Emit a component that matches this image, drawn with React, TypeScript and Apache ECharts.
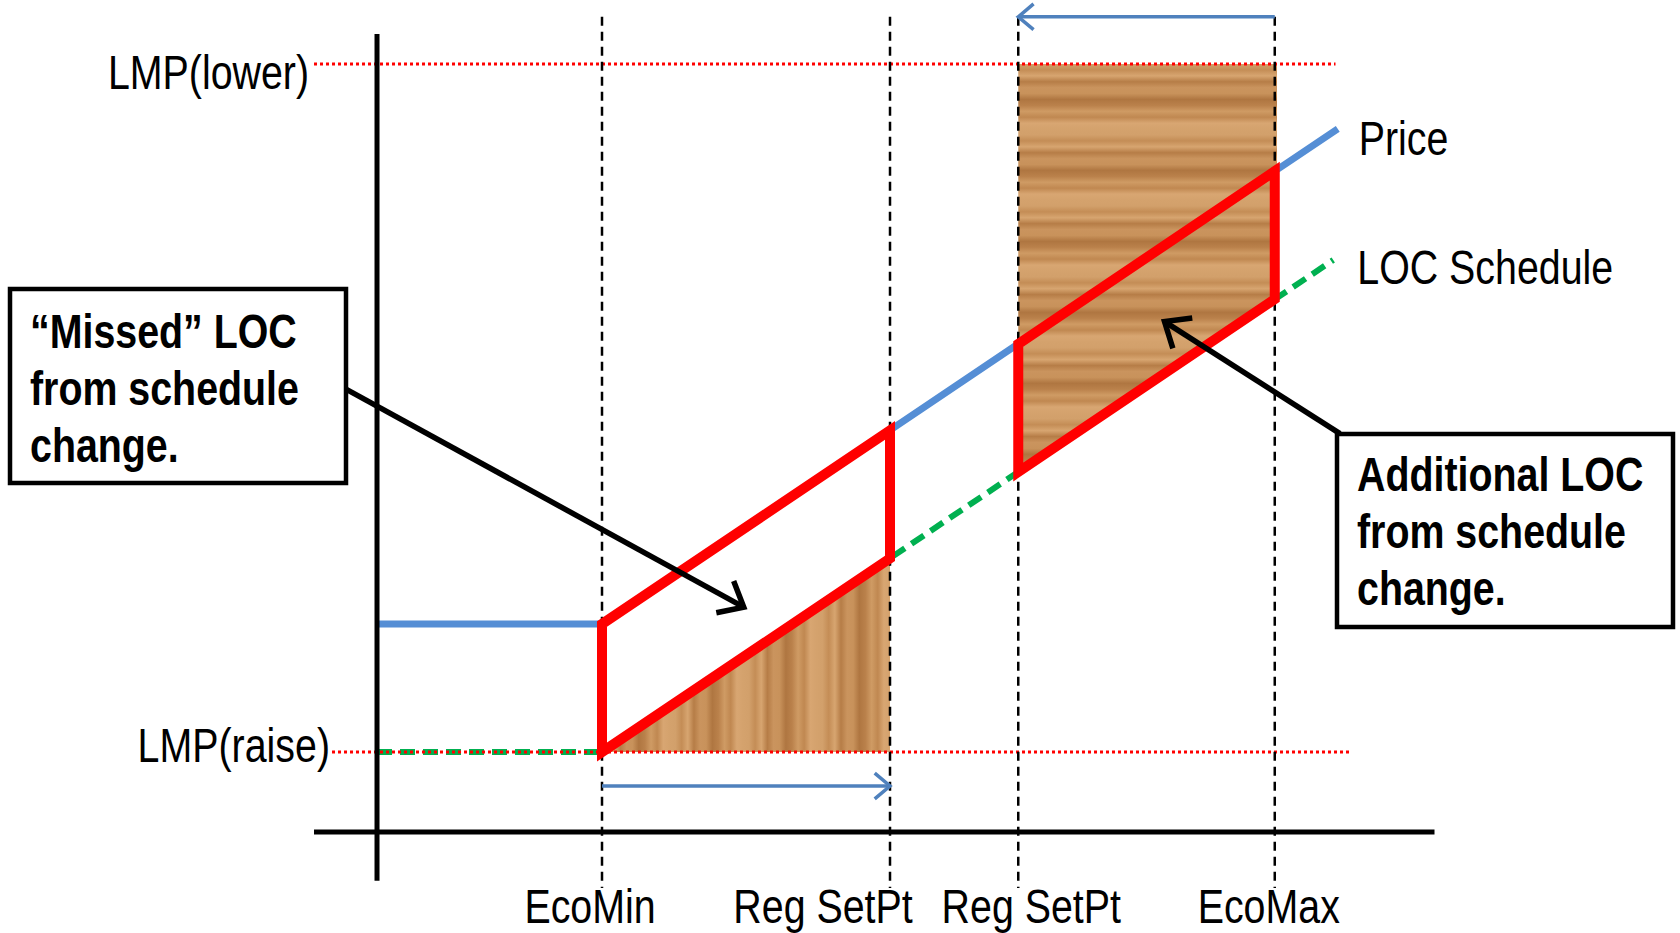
import React, { useEffect, useRef } from "react";
import * as echarts from "echarts";

// ---- data (x: MW, y: $/MWh, schematic values) ----
const xTickLabels = ["EcoMin", "Reg SetPt", "Reg SetPt", "EcoMax"];
const xTickValues = [10, 22.8, 28.5, 39.9];
const lmpLabels = ["LMP(lower)", "LMP(raise)"];
const lmpValues = [96, 10];
const lmpExtents = [[-2.8, 42.6], [-2.0, 43.3]];
const pricePts = [[0, 26], [10, 26], [42.7, 87.9]];
const schedulePts = [[0, 10], [10, 10], [42.5, 71.5]];
const missedLoc = [[10, 26], [22.8, 50.2], [22.8, 34.2], [10, 10]];
const additionalLoc = [[28.5, 61], [39.9, 82.6], [39.9, 66.6], [28.5, 45]];
const woodTriangle = [[10, 10], [22.8, 34.2], [22.8, 10]];
const woodBlock = [[28.5, 96], [40, 96], [40, 66.6], [28.5, 45]];
const blueArrows = [[39.9, 101.9, 28.5, 101.9], [10, 5.75, 22.8, 5.75]];
const blackArrows = [[-1.4, 55.4, 16.3, 28.1], [42.8, 49.8, 35.0, 63.8]];
const xAxisLine = [[-2.8, 0], [47, 0]];
const yAxisLine = [[0, 99.75], [0, -6.1]];
const guideExtent = [101.9, -7];
const boxTexts1 = ["\u201CMissed\u201D LOC", "from schedule", "change."];
const boxTexts2 = ["Additional LOC", "from schedule", "change."];

// ---- styles ----
const FONT = "'Liberation Sans', Arial, sans-serif";
const FS = 48;
const NARROW = 0.82;
const tickLabelOffsets = [-12, -67, 13, -6];
const WOOD_SHADES = ["#D2A06B", "#C8925B", "#D8A672", "#B67D47", "#CF9B64", "#C48D56", "#AF7641", "#D4A26D", "#CA945E", "#C08851", "#D7A570", "#BA814B"];

function woodGradient(vertical: boolean, stripes: number) {
  const colorStops: { offset: number; color: string }[] = [];
  for (let i = 0; i < stripes; i++) {
    colorStops.push({ offset: i / (stripes - 1), color: WOOD_SHADES[(i * 5) % WOOD_SHADES.length] });
  }
  return new echarts.graphic.LinearGradient(0, 0, vertical ? 0 : 1, vertical ? 1 : 0, colorStops);
}

function arrow(api: any, seg: number[], color: string, width: number, head: number) {
  const p1 = api.coord([seg[0], seg[1]]);
  const p2 = api.coord([seg[2], seg[3]]);
  const dx = p2[0] - p1[0];
  const dy = p2[1] - p1[1];
  const len = Math.hypot(dx, dy);
  const bx = -dx / len;
  const by = -dy / len;
  const ang = 0.7;
  const c = Math.cos(ang);
  const s = Math.sin(ang);
  const a1 = [p2[0] + head * (bx * c - by * s), p2[1] + head * (bx * s + by * c)];
  const a2 = [p2[0] + head * (bx * c + by * s), p2[1] + head * (-bx * s + by * c)];
  return {
    type: "group",
    children: [
      { type: "line", shape: { x1: p1[0], y1: p1[1], x2: p2[0], y2: p2[1] }, style: { stroke: color, lineWidth: width } },
      { type: "polyline", shape: { points: [a1, p2, a2] }, style: { stroke: color, lineWidth: width, fill: "none", lineJoin: "miter" } },
    ],
  };
}

function custom(name: string, z: number, render: (api: any) => any) {
  return {
    type: "custom",
    name,
    data: [0],
    clip: false,
    silent: true,
    z,
    renderItem: (_p: any, api: any) => render(api),
  };
}

function line(name: string, data: number[][], color: string, width: number, type: any, z: number) {
  return {
    type: "line",
    name,
    data,
    clip: false,
    silent: true,
    showSymbol: false,
    symbol: "none",
    z,
    lineStyle: { color, width, type, cap: "butt" },
  };
}

function text(x: number, y: number, t: string, align: string, bold = false) {
  return {
    type: "text",
    x,
    y,
    scaleX: NARROW,
    style: { text: t, fill: "#000", fontSize: FS, fontFamily: FONT, fontWeight: bold ? "bold" : "normal", align, verticalAlign: "middle" },
  };
}

// axis ranges chosen so that the grid spans the whole page (x: 22.5 px/MW, y: 8 px/unit)
const X_MIN = -16.756;
const X_MAX = 57.911;
const Y_MIN = -12.625;
const Y_MAX = 104;

export default function App() {
  const ref = useRef<HTMLDivElement>(null);
  useEffect(() => {
    if (!ref.current) return;
    const chart = echarts.init(ref.current, null, { renderer: "svg" });
    const series: any[] = [];

    series.push(
      custom("wood", 1, (api) => ({
        type: "group",
        children: [
          { type: "polygon", shape: { points: woodTriangle.map((p) => api.coord(p)) }, style: { fill: woodGradient(false, 48) } },
          { type: "polygon", shape: { points: woodBlock.map((p) => api.coord(p)) }, style: { fill: woodGradient(true, 70) } },
        ],
      }))
    );
    series.push(line("LOC Schedule", schedulePts, "#00B050", 6, [15, 8], 2));
    series.push(line("Price", pricePts, "#558ED5", 7, "solid", 3));
    lmpValues.forEach((v, i) => {
      series.push(line(lmpLabels[i], [[lmpExtents[i][0], v], [lmpExtents[i][1], v]], "#FF0000", 3, [3, 3], 4));
    });
    xTickValues.forEach((v, i) => {
      series.push(line(xTickLabels[i] + i, [[v, guideExtent[0]], [v, guideExtent[1]]], "#000", 2.5, [9, 6], 5));
    });
    series.push(
      custom("loc areas", 6, (api) => ({
        type: "group",
        children: [missedLoc, additionalLoc].map((poly) => ({
          type: "polygon",
          shape: { points: poly.map((p) => api.coord(p)) },
          style: { fill: "none", stroke: "#FF0000", lineWidth: 10, lineJoin: "miter" },
        })),
      }))
    );
    series.push(line("x axis", xAxisLine, "#000", 5, "solid", 7));
    series.push(line("y axis", yAxisLine, "#000", 5, "solid", 7));
    series.push(
      custom("arrows", 8, (api) => ({
        type: "group",
        children: [
          ...blueArrows.map((s) => arrow(api, s, "#4F81BD", 3.5, 20)),
          ...blackArrows.map((s) => arrow(api, s, "#000", 5.5, 28)),
        ],
      }))
    );
    series.push(
      custom("labels", 9, (api) => {
        const children: any[] = [];
        xTickValues.forEach((v, i) => {
          const p = api.coord([v, 0]);
          children.push(text(p[0] + tickLabelOffsets[i], p[1] + 74, xTickLabels[i], "center"));
        });
        const pl = api.coord([lmpExtents[0][0], lmpValues[0]]);
        children.push(text(pl[0] - 5, pl[1] + 8, lmpLabels[0], "right"));
        const pr = api.coord([lmpExtents[1][0], lmpValues[1]]);
        children.push(text(pr[0] - 2, pr[1] - 7, lmpLabels[1], "right"));
        const pe = api.coord(pricePts[pricePts.length - 1]);
        children.push(text(pe[0] + 21, pe[1] + 9, "Price", "left"));
        const se = api.coord(schedulePts[schedulePts.length - 1]);
        children.push(text(se[0] + 24, se[1] + 7, "LOC Schedule", "left"));
        return { type: "group", children };
      })
    );

    const boxGraphic = (x: number, y: number, w: number, h: number, lines: string[], lineTop: number) => ({
      type: "group",
      children: [
        { type: "rect", shape: { x, y, width: w, height: h }, style: { fill: "#fff", stroke: "#000", lineWidth: 4.5 }, z: 10 },
        ...lines.map((t, i) => ({ ...text(x + 20, lineTop + i * 57, t, "left", true), z: 11 })),
      ],
    });

    chart.setOption({
      animation: false,
      backgroundColor: "#fff",
      grid: { left: 0, top: 0, width: 1680, height: 933 },
      xAxis: { type: "value", min: X_MIN, max: X_MAX, show: false },
      yAxis: { type: "value", min: Y_MIN, max: Y_MAX, show: false },
      series,
      graphic: [boxGraphic(10, 289, 336, 194, boxTexts1, 331), boxGraphic(1337, 434, 336, 193, boxTexts2, 474)],
    });
    return () => chart.dispose();
  }, []);
  return <div ref={ref} style={{ position: "fixed", left: 0, top: 0, width: 1680, height: 933 }} />;
}
